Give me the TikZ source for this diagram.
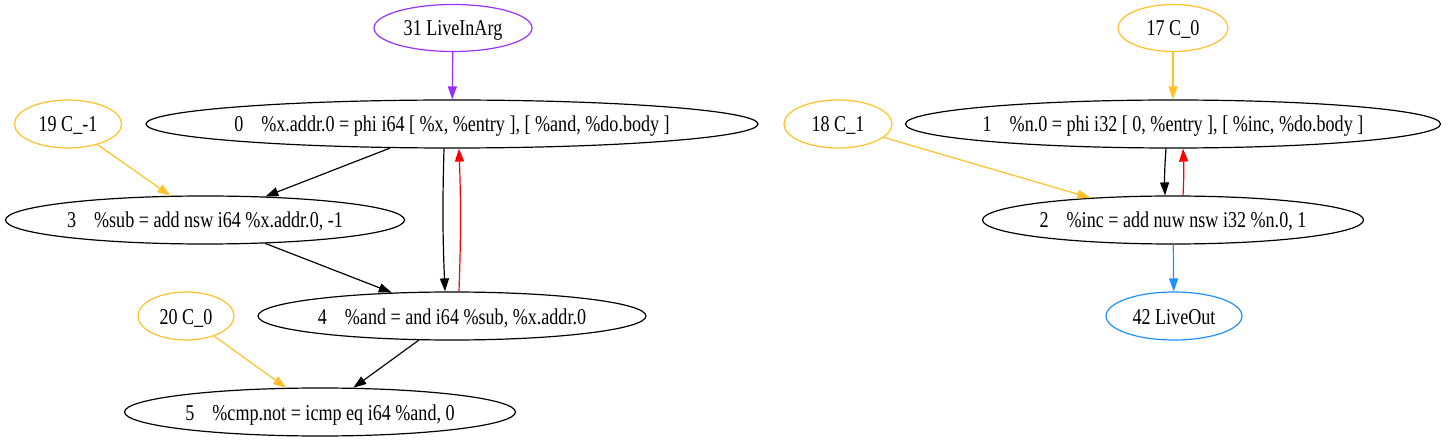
\documentclass[tikz,border=0pt]{standalone}
\usepackage{fontspec}
\setmainfont{Liberation Serif}[FakeStretch=0.8]
\usetikzlibrary{shapes.geometric,arrows.meta}
\definecolor{irPurple}{RGB}{155,48,255}
\definecolor{irGold}{RGB}{255,193,37}
\definecolor{irBlue}{RGB}{30,144,255}
\definecolor{irRed}{RGB}{255,0,0}
\newcommand{\oplabel}[1]{\makebox[0pt]{#1}}
\newcommand{\tabsp}{\hspace{18pt}}

\begin{document}
\begin{tikzpicture}[x=1pt, y=-1pt,
    every node/.style={ellipse, draw, line width=1.2pt, inner sep=0pt, minimum height=48pt, text height=16pt, text depth=0pt, font=\fontsize{22.6}{26}\selectfont},
    instr/.style={draw=black},
    constnode/.style={draw=irGold},
    livein/.style={draw=irPurple},
    liveout/.style={draw=irBlue},
    dep/.style={-{Triangle[length=13pt,width=9pt]}, line width=1.2pt}]
    \useasboundingbox (0,0) rectangle (1450,443);

    % Left graph
    \node[livein, minimum width=158pt, minimum height=47pt] (n31) at (453,28) {\oplabel{31 LiveInArg}};
    \node[instr, minimum width=612pt] (n0) at (452,124) {\oplabel{0\tabsp\%x.addr.0 = phi i64 [ \%x, \%entry ], [ \%and, \%do.body ]}};
    \node[constnode, minimum width=107pt] (n19) at (68,124) {\oplabel{19 C\_-1}};
    \node[instr, minimum width=399pt] (n3) at (205,220) {\oplabel{3\tabsp\%sub = add nsw i64 \%x.addr.0, -1}};
    \node[instr, minimum width=388pt] (n4) at (452,316) {\oplabel{4\tabsp\%and = and i64 \%sub, \%x.addr.0}};
    \node[constnode, minimum width=96pt] (n20) at (186,316) {\oplabel{20 C\_0}};
    \node[instr, minimum width=391pt] (n5) at (320,412) {\oplabel{5\tabsp\%cmp.not = icmp eq i64 \%and, 0}};

    % Right graph
    \node[constnode, minimum width=110pt, minimum height=47pt] (n17) at (1173,28) {\oplabel{17 C\_0}};
    \node[constnode, minimum width=108pt] (n18) at (838,124) {\oplabel{18 C\_1}};
    \node[instr, minimum width=535pt] (n1) at (1173,124) {\oplabel{1\tabsp\%n.0 = phi i32 [ 0, \%entry ], [ \%inc, \%do.body ]}};
    \node[instr, minimum width=381pt] (n2) at (1173,220) {\oplabel{2\tabsp\%inc = add nuw nsw i32 \%n.0, 1}};
    \node[liveout, minimum width=136pt] (n42) at (1174,316) {\oplabel{42 LiveOut}};

    % Edges
    \draw[dep, irPurple] (n31) -- (n0);
    \draw[dep, irGold] (n19) -- (n3);
    \draw[dep] (n0) -- (n3);
    \draw[dep] ([xshift=-8pt]n0.south) to[bend right=2] ([xshift=-7pt]n4.north);
    \draw[dep, irRed] ([xshift=7pt]n4.north) to[bend right=2] ([xshift=7pt]n0.south);
    \draw[dep] (n3) -- (n4);
    \draw[dep] (n4) -- (n5);
    \draw[dep, irGold] (n20) -- (n5);

    \draw[dep, irGold] (n17) -- (n1);
    \draw[dep, irGold] (n18) -- (n2.165);
    \draw[dep] ([xshift=-7pt]n1.south) to[bend right=3] ([xshift=-8pt]n2.north);
    \draw[dep, irRed] ([xshift=10pt]n2.north) to[bend right=3] ([xshift=10pt]n1.south);
    \draw[dep, irBlue] (n2) -- (n42);
\end{tikzpicture}
\end{document}
